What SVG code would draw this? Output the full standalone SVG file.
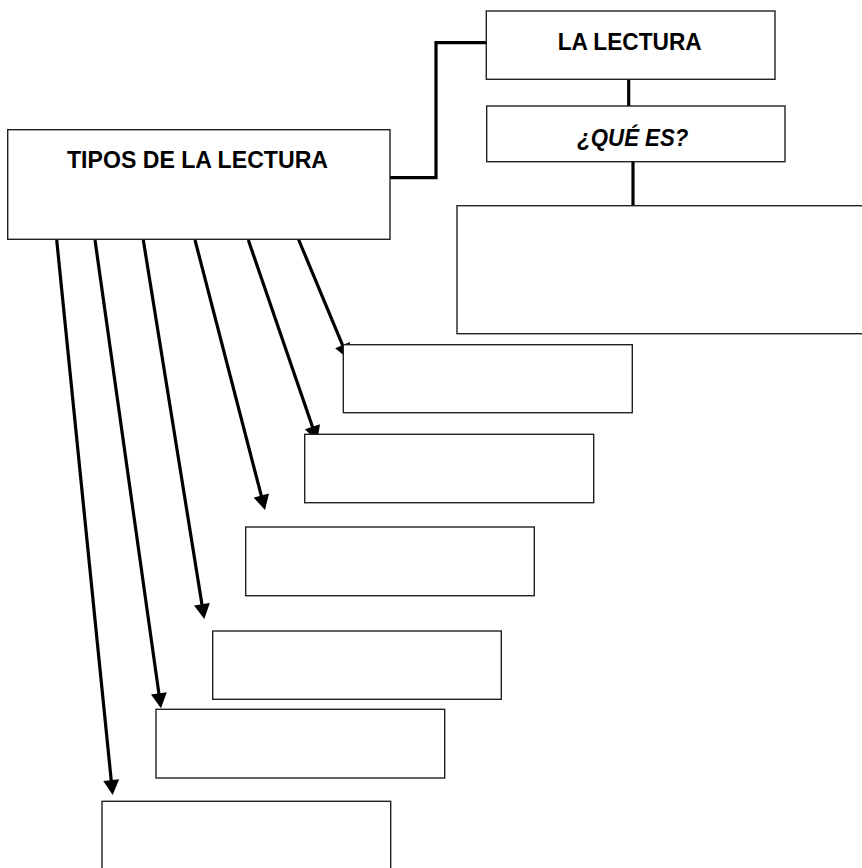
<svg xmlns="http://www.w3.org/2000/svg" width="862" height="868" viewBox="0 0 862 868">
<style>
  .box { fill: #ffffff; stroke: #222222; stroke-width: 1.4; }
  .conn { fill: none; stroke: #000000; stroke-width: 3.2; }
  .arr { fill: none; stroke: #000000; stroke-width: 3.2; marker-end: url(#head); }
  .lbl { font-family: "Liberation Sans", Arial, sans-serif; font-weight: bold; font-size: 24.5px; fill: #000000; text-anchor: middle; }
  .ital { font-style: italic; }
</style>
<defs>
  <marker id="head" markerUnits="userSpaceOnUse" markerWidth="16" markerHeight="16" viewBox="0 0 15 16" refX="3" refY="8" orient="auto">
    <path d="M0,0 L15,8 L0,16 Z" fill="#000000"/>
  </marker>
</defs>
<rect width="862" height="868" fill="#ffffff"/>

<g id="connectors">
  <polyline class="conn" points="384,177.7 436,177.7 436,42.7 486,42.7"/>
  <line class="conn" x1="628.7" y1="79" x2="628.7" y2="108.7"/>
  <line class="conn" x1="633" y1="161.7" x2="633" y2="209.3"/>
  <line class="arr" x1="56.7" y1="240" x2="111.5" y2="783.1"/>
  <line class="arr" x1="95" y1="240" x2="159.3" y2="696.4"/>
  <line class="arr" x1="143.3" y1="240" x2="202.4" y2="607.2"/>
  <line class="arr" x1="195" y1="240" x2="262" y2="498.4"/>
  <line class="arr" x1="248.3" y1="240" x2="313.4" y2="429.6"/>
  <line class="arr" x1="296.7" y1="235" x2="343.7" y2="347.9"/>
</g>

<g id="la-lectura">
  <rect class="box" x="486.3" y="11" width="288.7" height="68.3"/>
  <text class="lbl" x="629.7" y="50" textLength="144" lengthAdjust="spacingAndGlyphs">LA LECTURA</text>
</g>

<g id="que-es">
  <rect class="box" x="486.7" y="106" width="298.3" height="55.7"/>
  <text class="lbl ital" x="632.8" y="145.7" textLength="111" lengthAdjust="spacingAndGlyphs">¿QUÉ ES?</text>
</g>

<g id="definicion">
  <rect class="box" x="457" y="205.7" width="410" height="128"/>
</g>

<g id="tipos">
  <rect class="box" x="7.7" y="129.7" width="382.3" height="109.6"/>
  <text class="lbl" x="197.5" y="168.3" textLength="261" lengthAdjust="spacingAndGlyphs">TIPOS DE LA LECTURA</text>
</g>

<g id="tipo-1"><rect class="box" x="343.3" y="344.7" width="289" height="68"/></g>
<g id="tipo-2"><rect class="box" x="304.7" y="434.3" width="289" height="68.4"/></g>
<g id="tipo-3"><rect class="box" x="245.7" y="527" width="288.6" height="68.7"/></g>
<g id="tipo-4"><rect class="box" x="212.7" y="631" width="288.6" height="68.3"/></g>
<g id="tipo-5"><rect class="box" x="156" y="709.3" width="288.7" height="68.7"/></g>
<g id="tipo-6"><rect class="box" x="102" y="801.3" width="288.7" height="80"/></g>
</svg>
